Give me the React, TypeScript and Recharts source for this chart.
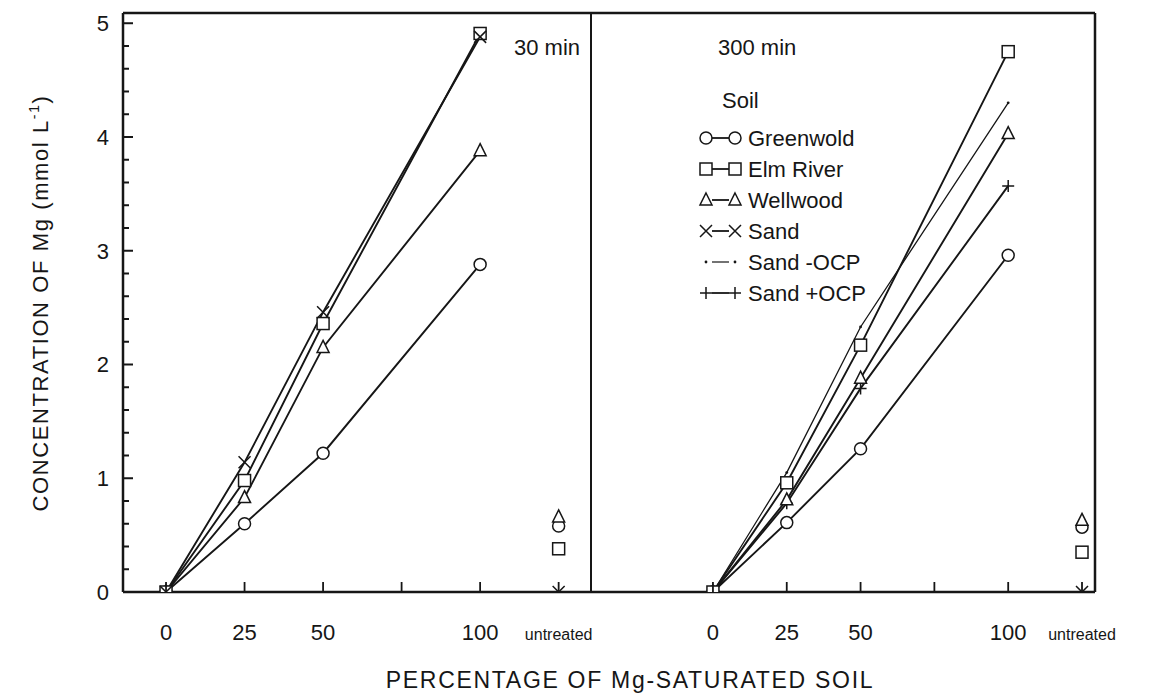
import React from "react";
import { ComposedChart, Line, Scatter, XAxis, YAxis, ReferenceLine } from "recharts";

// x positions (percentage of Mg-saturated soil); "untreated" sits at 125
const PCT = [0, 25, 50, 100];
const UNTREATED_X = 125;
const X_TICKS = [0, 25, 50, 75, 100, 125];
const X_LABELS: Record<number, string> = { 0: "0", 25: "25", 50: "50", 100: "100", 125: "untreated" };
const Y_TICKS = [0, 0.2, 0.4, 0.6, 0.8, 1, 1.2, 1.4, 1.6, 1.8, 2, 2.2, 2.4, 2.6, 2.8, 3, 3.2, 3.4, 3.6, 3.8, 4, 4.2, 4.4, 4.6, 4.8, 5];

// 30 min
const GREENWOLD_30 = [0, 0.6, 1.22, 2.88];
const ELM_RIVER_30 = [0, 0.98, 2.36, 4.91];
const WELLWOOD_30 = [0, 0.83, 2.15, 3.88];
const SAND_30 = [0, 1.14, 2.46, 4.88];
// untreated: greenwold, elm river, wellwood, sand
const UNTREATED_30 = [0.58, 0.38, 0.66, 0];

// 300 min
const GREENWOLD_300 = [0, 0.61, 1.26, 2.96];
const ELM_RIVER_300 = [0, 0.96, 2.17, 4.75];
const WELLWOOD_300 = [0, 0.81, 1.88, 4.03];
const SAND_MINUS_OCP_300 = [0, 1.05, 2.33, 4.3];
const SAND_PLUS_OCP_300 = [0, 0.78, 1.79, 3.57];
const UNTREATED_300 = [0.57, 0.35, 0.63, 0];

const INK = "#161616";
const FONT = '"Liberation Sans", Arial, sans-serif';
const Y_MAX = 5.09;

type Kind = "circle" | "square" | "triangle" | "cross" | "dot" | "plus";

function Marker({ cx, cy, kind }: { cx?: number; cy?: number; kind: Kind }) {
  if (cx == null || cy == null || isNaN(cx) || isNaN(cy)) return null;
  const s = 6;
  const st = { stroke: INK, strokeWidth: 1.5, fill: "#fff" };
  if (kind === "circle") return <circle cx={cx} cy={cy} r={s} {...st} />;
  if (kind === "square") return <rect x={cx - s} y={cy - s} width={2 * s} height={2 * s} {...st} />;
  if (kind === "triangle")
    return <path d={`M${cx},${cy - s - 1}L${cx + s},${cy + s - 1}L${cx - s},${cy + s - 1}Z`} {...st} />;
  if (kind === "cross")
    return <path d={`M${cx - s},${cy - s}L${cx + s},${cy + s}M${cx - s},${cy + s}L${cx + s},${cy - s}`} stroke={INK} strokeWidth={1.5} fill="none" />;
  if (kind === "plus")
    return <path d={`M${cx - s},${cy}L${cx + s},${cy}M${cx},${cy - s}L${cx},${cy + s}`} stroke={INK} strokeWidth={1.5} fill="none" />;
  return <circle cx={cx} cy={cy} r={1.4} fill={INK} />;
}

const dotOf = (kind: Kind, name: string) => (p: any) => (
  <Marker key={`${name}-${p.index}`} cx={p.cx} cy={p.cy} kind={kind} />
);

function XTick(props: any) {
  const { x, y, payload } = props;
  const v = payload.value as number;
  const label = X_LABELS[v] ?? "";
  const small = v === UNTREATED_X;
  return (
    <g>
      <line x1={x} x2={x} y1={y} y2={y - 10} stroke={INK} strokeWidth={1.8} />
      <text x={x} y={y + 48} textAnchor="middle" fontSize={small ? 16 : 22} fill={INK} fontFamily={FONT}>
        {label}
      </text>
    </g>
  );
}

function YTick(props: any) {
  const { x, y, payload } = props;
  const v = payload.value as number;
  const major = Math.abs(v - Math.round(v)) < 1e-6;
  return (
    <g>
      <line x1={x} x2={x + (major ? 10 : 6)} y1={y} y2={y} stroke={INK} strokeWidth={2} />
      {major && (
        <text x={x - 14} y={y + 8} textAnchor="end" fontSize={22} fill={INK} fontFamily={FONT}>
          {v}
        </text>
      )}
    </g>
  );
}

const axisStroke = { stroke: INK, strokeWidth: 2.5 };

function rows(cols: Record<string, number[]>) {
  return PCT.map((x, i) => {
    const r: Record<string, number> = { x };
    Object.keys(cols).forEach((k) => (r[k] = cols[k][i]));
    return r;
  });
}

const LEFT_DATA = rows({ greenwold: GREENWOLD_30, elm: ELM_RIVER_30, wellwood: WELLWOOD_30, sand: SAND_30 });
const RIGHT_DATA = rows({
  greenwold: GREENWOLD_300,
  elm: ELM_RIVER_300,
  wellwood: WELLWOOD_300,
  sandMinus: SAND_MINUS_OCP_300,
  sandPlus: SAND_PLUS_OCP_300,
});

const UNTREATED_KINDS: Kind[] = ["circle", "square", "triangle", "cross"];

const LEGEND: { name: string; kind: Kind }[] = [
  { name: "Greenwold", kind: "circle" },
  { name: "Elm River", kind: "square" },
  { name: "Wellwood", kind: "triangle" },
  { name: "Sand", kind: "cross" },
  { name: "Sand -OCP", kind: "dot" },
  { name: "Sand +OCP", kind: "plus" },
];

export default function App() {
  const lineProps = { type: "linear" as const, stroke: INK, strokeWidth: 1.9, isAnimationActive: false, activeDot: false as const };
  return (
    <div style={{ position: "absolute", left: 0, top: 0, width: 1163, height: 696, background: "#fff", overflow: "hidden" }}>
      {/* 30 min panel */}
      <div style={{ position: "absolute", left: 0, top: 0 }}>
        <ComposedChart width={596} height={696} data={LEFT_DATA} margin={{ top: 13, right: 5, bottom: 0, left: 0 }}>
          <XAxis type="number" dataKey="x" domain={[-13.7, 135.3]} ticks={X_TICKS} tick={<XTick />} tickSize={0} tickMargin={0}
            tickLine={false} axisLine={axisStroke} height={104} allowDataOverflow interval={0} />
          <YAxis type="number" domain={[0, Y_MAX]} ticks={Y_TICKS} tick={<YTick />} tickSize={0} tickMargin={0}
            tickLine={false} axisLine={axisStroke} width={123} allowDataOverflow interval={0} />
          <ReferenceLine y={Y_MAX} stroke={INK} strokeWidth={2.5} />
          <ReferenceLine x={135.3} stroke={INK} strokeWidth={2} />
          <Line dataKey="greenwold" {...lineProps} dot={dotOf("circle", "g30")} />
          <Line dataKey="wellwood" {...lineProps} dot={dotOf("triangle", "w30")} />
          <Line dataKey="elm" {...lineProps} dot={dotOf("square", "e30")} />
          <Line dataKey="sand" {...lineProps} dot={dotOf("cross", "s30")} />
          {UNTREATED_30.map((v, i) => (
            <Scatter key={`u30-${i}`} data={[{ x: UNTREATED_X, y: v }]} dataKey="y" isAnimationActive={false}
              shape={(p: any) => <Marker cx={p.cx} cy={p.cy} kind={UNTREATED_KINDS[i]} />} />
          ))}
        </ComposedChart>
      </div>

      {/* 300 min panel */}
      <div style={{ position: "absolute", left: 551, top: 0 }}>
        <ComposedChart width={612} height={696} data={RIGHT_DATA} margin={{ top: 13, right: 68, bottom: 0, left: 40 }}>
          <XAxis type="number" dataKey="x" domain={[-41.3, 129.4]} ticks={X_TICKS} tick={<XTick />} tickSize={0} tickMargin={0}
            tickLine={false} axisLine={axisStroke} height={104} allowDataOverflow interval={0} />
          <YAxis type="number" domain={[0, Y_MAX]} hide allowDataOverflow />
          <ReferenceLine y={Y_MAX} stroke={INK} strokeWidth={2.5} />
          <ReferenceLine x={129.4} stroke={INK} strokeWidth={2.5} />
          <ReferenceLine x={-41.3} stroke={INK} strokeWidth={2} />
          <Line dataKey="greenwold" {...lineProps} dot={dotOf("circle", "g300")} />
          <Line dataKey="sandPlus" {...lineProps} dot={dotOf("plus", "p300")} />
          <Line dataKey="wellwood" {...lineProps} dot={dotOf("triangle", "w300")} />
          <Line dataKey="sandMinus" {...lineProps} strokeWidth={1.3} dot={dotOf("dot", "m300")} />
          <Line dataKey="elm" {...lineProps} dot={dotOf("square", "e300")} />
          {UNTREATED_300.map((v, i) => (
            <Scatter key={`u300-${i}`} data={[{ x: UNTREATED_X, y: v }]} dataKey="y" isAnimationActive={false}
              shape={(p: any) => <Marker cx={p.cx} cy={p.cy} kind={UNTREATED_KINDS[i]} />} />
          ))}
        </ComposedChart>
      </div>

      {/* titles and legend */}
      <svg width={1163} height={696} style={{ position: "absolute", left: 0, top: 0, pointerEvents: "none" }} fontFamily={FONT} fill={INK}>
        <text x={514} y={55} fontSize={22}>30 min</text>
        <text x={718} y={55} fontSize={22}>300 min</text>
        <text x={722} y={108} fontSize={22}>Soil</text>
        {LEGEND.map((it, i) => {
          const cy = 138 + i * 31;
          return (
            <g key={it.name}>
              <Marker cx={706} cy={cy} kind={it.kind} />
              <line x1={712} x2={729} y1={cy} y2={cy} stroke={INK} strokeWidth={it.kind === "dot" ? 1.2 : 1.8} />
              <Marker cx={735} cy={cy} kind={it.kind} />
              <text x={748} y={cy + 8} fontSize={22}>{it.name}</text>
            </g>
          );
        })}
        <text x={630} y={688} fontSize={23} textAnchor="middle" letterSpacing={1.7}>PERCENTAGE OF Mg-SATURATED SOIL</text>
        <text transform="translate(48,303) rotate(-90)" fontSize={22} textAnchor="middle" letterSpacing={1.6}>
          CONCENTRATION OF Mg (mmol L<tspan dy={-9} fontSize={14}>-1</tspan><tspan dy={9}>)</tspan>
        </text>
      </svg>
    </div>
  );
}
